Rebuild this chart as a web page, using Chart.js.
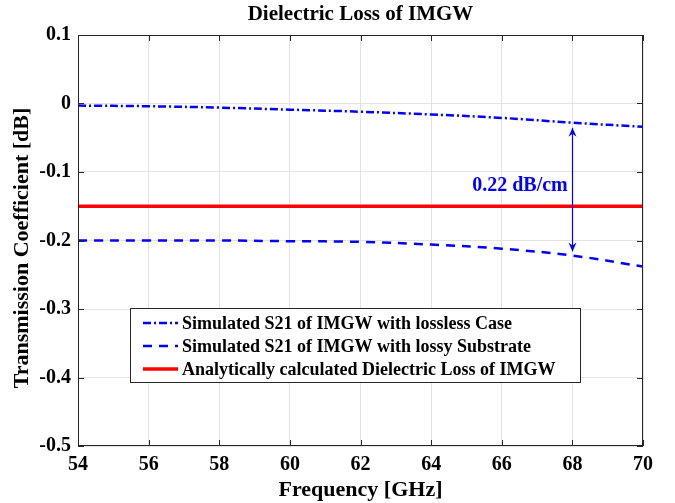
<!DOCTYPE html>
<html>
<head>
<meta charset="utf-8">
<script src="https://cdn.jsdelivr.net/npm/chart.js@4.4.1/dist/chart.umd.min.js"></script>
<style>
  html, body { margin: 0; padding: 0; background: #fff; }
  #wrap { width: 675px; height: 503px; }
</style>
</head>
<body>
<div id="wrap"><canvas id="myChart" width="675" height="503"></canvas></div>
<script>
// data
const freq = [54, 56, 58, 60, 62, 64, 66, 68, 70];
const lossless = [-0.003, -0.004, -0.006, -0.009, -0.012, -0.016, -0.021, -0.028, -0.034];
const lossy = [-0.200, -0.200, -0.200, -0.201, -0.202, -0.206, -0.212, -0.222, -0.238];
const analytic = [-0.15, -0.15, -0.15, -0.15, -0.15, -0.15, -0.15, -0.15, -0.15];
const xTicks = [54, 56, 58, 60, 62, 64, 66, 68, 70];
const yTicks = [0.1, 0, -0.1, -0.2, -0.3, -0.4, -0.5];

const seriesNames = [
    'Simulated S21 of IMGW with lossless Case',
    'Simulated S21 of IMGW with lossy Substrate',
    'Analytically calculated Dielectric Loss of IMGW'
];

// arrow between the two curves at 68 GHz
const arrowFreq = 68;
const arrowTop = -0.0355;
const arrowBottom = -0.216;
const arrowLabel = '0.22 dB/cm';

const FONT = '"Liberation Serif", "Times New Roman", serif';

const toPoints = (ys) => freq.map((f, i) => ({x: f, y: ys[i]}));

// titles, box, inner ticks, legend and the arrow
const decorPlugin = {
    id: 'decor',
    afterDraw(chart) {
        const ctx = chart.ctx;
        const a = chart.chartArea;
        const xs = chart.scales.x;
        const ys = chart.scales.y;
        ctx.save();

        // box around the axes
        ctx.strokeStyle = '#262626';
        ctx.lineWidth = 1;
        ctx.strokeRect(a.left + 0.5, a.top + 0.5, a.right - a.left - 1, a.bottom - a.top - 1);

        // small inward ticks on all four sides
        ctx.beginPath();
        xTicks.forEach(v => {
            const px = Math.round(xs.getPixelForValue(v)) + 0.5;
            ctx.moveTo(px, a.bottom); ctx.lineTo(px, a.bottom - 6);
            ctx.moveTo(px, a.top); ctx.lineTo(px, a.top + 6);
        });
        yTicks.forEach(v => {
            const py = Math.round(ys.getPixelForValue(v)) + 0.5;
            ctx.moveTo(a.left, py); ctx.lineTo(a.left + 6, py);
            ctx.moveTo(a.right, py); ctx.lineTo(a.right - 6, py);
        });
        ctx.stroke();

        // chart title
        ctx.fillStyle = '#000';
        ctx.textAlign = 'center';
        ctx.textBaseline = 'middle';
        ctx.font = 'bold 21px ' + FONT;
        ctx.fillText('Dielectric Loss of IMGW', (a.left + a.right) / 2, 15);

        // axis titles
        ctx.font = 'bold 22px ' + FONT;
        ctx.fillText('Frequency [GHz]', (a.left + a.right) / 2, 490);
        ctx.save();
        ctx.translate(22, 248);
        ctx.rotate(-Math.PI / 2);
        ctx.fillText('Transmission Coefficient [dB]', 0, 0);
        ctx.restore();

        // arrow
        const ax = Math.round(xs.getPixelForValue(arrowFreq)) + 0.5;
        const t = ys.getPixelForValue(arrowTop);
        const b = ys.getPixelForValue(arrowBottom);
        ctx.strokeStyle = '#0000ff';
        ctx.fillStyle = '#0000ff';
        ctx.lineWidth = 1.2;
        ctx.beginPath();
        ctx.moveTo(ax, t); ctx.lineTo(ax, b);
        ctx.stroke();
        const head = (tipY, dir) => {
            ctx.beginPath();
            ctx.moveTo(ax, tipY);
            ctx.lineTo(ax - 4, tipY + dir * 9);
            ctx.lineTo(ax, tipY + dir * 6);
            ctx.lineTo(ax + 4, tipY + dir * 9);
            ctx.closePath();
            ctx.fill();
        };
        head(t, 1);
        head(b, -1);
        ctx.font = 'bold 20px ' + FONT;
        ctx.textAlign = 'center';
        ctx.fillText(arrowLabel, 520, 186);

        // legend
        const lx = 130, ly = 308, lw = 450, lh = 74;
        ctx.fillStyle = '#fff';
        ctx.fillRect(lx, ly, lw, lh);
        ctx.strokeStyle = '#262626';
        ctx.lineWidth = 1;
        ctx.strokeRect(lx + 0.5, ly + 0.5, lw, lh);
        chart.data.datasets.forEach((ds, i) => {
            const cy = ly + 15 + i * 23;
            ctx.strokeStyle = ds.borderColor;
            ctx.lineWidth = ds.borderWidth;
            ctx.setLineDash(ds.borderDash || []);
            ctx.beginPath();
            ctx.moveTo(lx + 13, cy);
            ctx.lineTo(lx + 48, cy);
            ctx.stroke();
            ctx.setLineDash([]);
            ctx.fillStyle = '#000';
            ctx.textAlign = 'left';
            ctx.font = 'bold 18px ' + FONT;
            ctx.fillText(ds.label, lx + 52, cy + 1);
        });

        ctx.restore();
    }
};

new Chart(document.getElementById('myChart'), {
    type: 'line',
    data: {
        datasets: [
            {
                label: seriesNames[0],
                data: toPoints(lossless),
                borderColor: '#0000ff',
                borderWidth: 2.5,
                borderDash: [8, 3, 2, 3],
                pointRadius: 0,
                tension: 0.4,
                fill: false
            },
            {
                label: seriesNames[1],
                data: toPoints(lossy),
                borderColor: '#0000ff',
                borderWidth: 2.5,
                borderDash: [9, 7],
                pointRadius: 0,
                tension: 0.4,
                fill: false
            },
            {
                label: seriesNames[2],
                data: toPoints(analytic),
                borderColor: '#ff0000',
                borderWidth: 3.5,
                pointRadius: 0,
                fill: false
            }
        ]
    },
    options: {
        responsive: false,
        animation: false,
        layout: { padding: { top: 35, left: 0, right: 32, bottom: 0 } },
        plugins: {
            legend: { display: false },
            tooltip: { enabled: false },
            title: { display: false }
        },
        scales: {
            x: {
                type: 'linear',
                min: 54,
                max: 70,
                afterFit: (s) => { s.height = 57; },
                afterBuildTicks: (s) => { s.ticks = xTicks.map(v => ({value: v})); },
                grid: { color: '#e3e3e3', drawTicks: false },
                border: { display: false },
                ticks: {
                    padding: 7,
                    autoSkip: false,
                    maxRotation: 0,
                    color: '#000',
                    font: { family: FONT, size: 20, weight: 'bold' }
                }
            },
            y: {
                min: -0.5,
                max: 0.1,
                afterFit: (s) => { s.width = 78; },
                afterBuildTicks: (s) => { s.ticks = yTicks.map(v => ({value: v})); },
                grid: { color: '#e3e3e3', drawTicks: false },
                border: { display: false },
                ticks: {
                    padding: 7,
                    autoSkip: false,
                    color: '#000',
                    font: { family: FONT, size: 20, weight: 'bold' },
                    callback: (v) => (Math.abs(v) < 1e-9 ? '0' : String(Math.round(v * 10) / 10))
                }
            }
        }
    },
    plugins: [decorPlugin]
});
</script>
</body>
</html>
